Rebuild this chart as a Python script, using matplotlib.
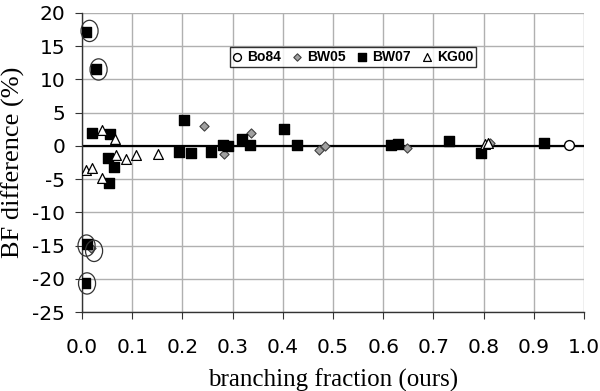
import matplotlib
matplotlib.use("Agg")
import matplotlib.pyplot as plt
from matplotlib.patches import Ellipse

plt.rcParams["axes.unicode_minus"] = False

# data (branching fraction, BF difference %)
bo84_x = [0.971]
bo84_y = [0.1]

bw05_x = [0.243, 0.283, 0.336, 0.473, 0.484, 0.647, 0.813, 0.018]
bw05_y = [3.0, -1.2, 1.9, -0.55, 0.0, -0.25, 0.5, -15.3]

bw07_x = [0.008, 0.027, 0.019, 0.056, 0.052, 0.064, 0.054, 0.194, 0.203, 0.217,
          0.257, 0.280, 0.291, 0.319, 0.335, 0.403, 0.429, 0.616, 0.630, 0.732,
          0.795, 0.921, 0.009, 0.006]
bw07_y = [17.1, 11.6, 1.9, 1.8, -1.8, -3.2, -5.6, -0.9, 3.9, -1.05,
          -0.85, 0.2, 0.0, 1.1, 0.2, 2.6, 0.15, 0.1, 0.3, 0.75,
          -1.0, 0.5, -14.8, -20.6]

kg00_x = [0.039, 0.066, 0.067, 0.087, 0.108, 0.151, 0.007, 0.019, 0.040, 0.802, 0.808]
kg00_y = [2.4, 1.1, -1.3, -2.0, -1.4, -1.2, -3.6, -3.4, -4.9, 0.35, 0.45]

# circled outliers
circle_x = [0.015, 0.033, 0.009, 0.024, 0.010]
circle_y = [17.3, 11.5, -15.0, -15.8, -20.7]

fig = plt.figure(figsize=(6.0, 3.91), dpi=100)
ax = fig.add_axes([0.1367, 0.202, 0.8366, 0.7648])

ax.set_xlim(0, 1.0)
ax.set_ylim(-25, 20)
ax.set_xticks([i / 10 for i in range(11)])
ax.set_yticks(range(-25, 21, 5))
ax.set_xticklabels([f"{i / 10:.1f}" for i in range(11)])
ax.grid(True, color="#b0b0b0", linewidth=1.0)
ax.set_axisbelow(True)
for s in ["top", "right"]:
    ax.spines[s].set_visible(False)
for s in ["left", "bottom"]:
    ax.spines[s].set_color("#333333")
    ax.spines[s].set_linewidth(1.0)
ax.tick_params(direction="out", length=5, color="#333333", labelsize=14.5,
               labelfontfamily="DejaVu Sans")
ax.tick_params(axis="x", pad=14)
ax.tick_params(axis="y", pad=7)

ax.axhline(0, color="black", linewidth=1.6, zorder=2)

ax.scatter(bo84_x, bo84_y, marker="o", s=50, facecolor="white", edgecolor="black",
           linewidth=1.0, zorder=3, label="Bo84")
ax.scatter(bw05_x, bw05_y, marker="D", s=22, facecolor="#a0a0a0", edgecolor="#404040",
           linewidth=0.8, zorder=3, label="BW05")
ax.scatter(bw07_x, bw07_y, marker="s", s=45, facecolor="black", edgecolor="black",
           zorder=3, label="BW07")
ax.scatter(kg00_x, kg00_y, marker="^", s=50, facecolor="white", edgecolor="black",
           linewidth=0.9, zorder=3, label="KG00")

for cx, cy in zip(circle_x, circle_y):
    ax.add_patch(Ellipse((cx, cy), 0.034, 3.2, fill=False, edgecolor="#333333",
                         linewidth=0.9, zorder=4, clip_on=False))

ax.set_xlabel("branching fraction (ours)", family="Liberation Serif", fontsize=18,
              labelpad=8)
ax.set_ylabel("BF difference (%)", family="Liberation Serif", fontsize=19, labelpad=5)

leg = ax.legend(loc="upper left", bbox_to_anchor=(0.295, 0.886), ncol=4,
                borderaxespad=0, frameon=True, fancybox=False, handletextpad=0.4,
                columnspacing=0.9, borderpad=0.2, handlelength=0.6, markerscale=0.8,
                prop={"family": "Liberation Sans", "weight": "bold", "size": 10})
leg.get_frame().set_edgecolor("black")
leg.get_frame().set_linewidth(1.0)

fig.savefig("out.png", dpi=100)
